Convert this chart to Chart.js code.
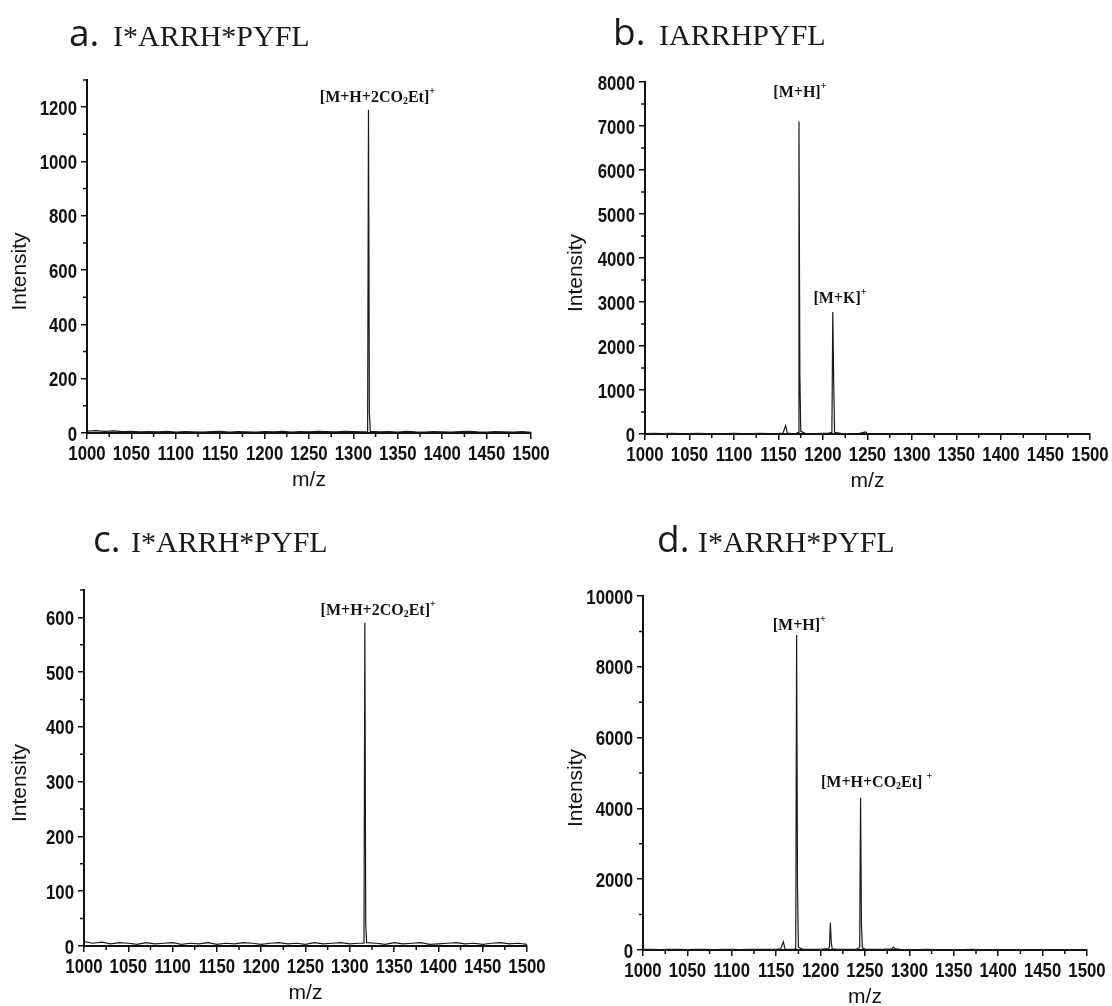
<!DOCTYPE html>
<html>
<head>
<meta charset="utf-8">
<script src="https://cdn.jsdelivr.net/npm/chart.js@4"></script>
<style>
  body { margin: 0; background: #fff; }
  #wrap { position: relative; width: 1112px; height: 1006px; }
  canvas { position: absolute; }
</style>
</head>
<body>
<div id="wrap">
  <canvas id="pa" width="556" height="500" style="left:0;top:0"></canvas>
  <canvas id="pb" width="556" height="500" style="left:556px;top:0"></canvas>
  <canvas id="pc" width="556" height="506" style="left:0;top:500px"></canvas>
  <canvas id="pd" width="556" height="506" style="left:556px;top:500px"></canvas>
</div>
<script>
// shared x axis
const xTicks = [1000, 1050, 1100, 1150, 1200, 1250, 1300, 1350, 1400, 1450, 1500];

// panel a  I*ARRH*PYFL
const mzA = [
  1000, 1010, 1020, 1030, 1040, 1050, 1060, 1070, 1080, 1090,
  1100, 1110, 1120, 1130, 1140, 1150, 1160, 1170, 1180, 1190,
  1200, 1210, 1220, 1230, 1240, 1250, 1260, 1270, 1280, 1290,
  1300, 1310, 1316, 1317, 1318, 1319, 1330, 1340, 1350, 1360,
  1370, 1380, 1390, 1400, 1410, 1420, 1430, 1440, 1450, 1460,
  1470, 1480, 1490, 1500];
const intA = [
  7, 9, 6, 8, 5, 6, 4, 5, 4, 6,
  3, 5, 4, 3, 5, 6, 3, 5, 4, 3,
  5, 4, 6, 3, 5, 4, 6, 5, 4, 6,
  5, 4, 4, 1190, 75, 6, 4, 5, 3, 6,
  4, 3, 5, 4, 3, 5, 6, 4, 3, 5,
  4, 3, 5, 2];
const yTicksA = [0, 200, 400, 600, 800, 1000, 1200];
const labelsA = [{ text: '[M+H+2CO_2Et]^+', mz: 1327, y: 1219 }];

// panel b  IARRHPYFL
const mzB = [
  1000, 1010, 1020, 1030, 1040, 1050, 1060, 1070, 1080, 1090,
  1100, 1110, 1120, 1130, 1140, 1150, 1155, 1158, 1160, 1165,
  1170, 1172, 1173, 1174, 1175, 1180, 1190, 1200, 1205, 1209,
  1210, 1211, 1212, 1213, 1220, 1230, 1240, 1248, 1250, 1260,
  1270, 1280, 1290, 1300, 1310, 1320, 1330, 1340, 1350, 1360,
  1370, 1380, 1390, 1400, 1410, 1420, 1430, 1440, 1450, 1460,
  1470, 1480, 1490, 1500];
const intB = [
  10, 15, 8, 12, 10, 8, 12, 10, 8, 10,
  12, 8, 10, 12, 10, 15, 20, 190, 20, 10,
  15, 30, 7100, 1350, 60, 15, 10, 12, 15, 30,
  60, 2770, 1200, 40, 15, 10, 8, 50, 10, 8,
  10, 8, 6, 10, 8, 6, 8, 10, 6, 8,
  6, 8, 10, 6, 8, 6, 8, 6, 8, 6,
  8, 6, 8, 5];
const yTicksB = [0, 1000, 2000, 3000, 4000, 5000, 6000, 7000, 8000];
const labelsB = [
  { text: '[M+H]^+', mz: 1174, y: 7660 },
  { text: '[M+K]^+', mz: 1219, y: 2977 }
];

// panel c  I*ARRH*PYFL
const mzC = [
  1000, 1010, 1020, 1030, 1040, 1050, 1060, 1070, 1080, 1090,
  1100, 1110, 1120, 1130, 1140, 1150, 1160, 1170, 1180, 1190,
  1200, 1210, 1220, 1230, 1240, 1250, 1260, 1270, 1280, 1290,
  1300, 1310, 1316, 1317, 1318, 1319, 1330, 1340, 1350, 1360,
  1370, 1380, 1390, 1400, 1410, 1420, 1430, 1440, 1450, 1460,
  1470, 1480, 1490, 1500];
const intC = [
  8, 5, 7, 4, 6, 5, 3, 6, 4, 5,
  6, 3, 5, 4, 6, 3, 5, 4, 6, 5,
  3, 5, 6, 4, 5, 3, 6, 4, 5, 6,
  4, 5, 5, 590, 40, 6, 5, 3, 6, 4,
  5, 6, 3, 4, 5, 6, 4, 5, 3, 5,
  6, 4, 5, 3];
const yTicksC = [0, 100, 200, 300, 400, 500, 600];
const labelsC = [{ text: '[M+H+2CO_2Et]^+', mz: 1332, y: 604 }];

// panel d  I*ARRH*PYFL
const mzD = [
  1000, 1010, 1020, 1030, 1040, 1050, 1060, 1070, 1080, 1090,
  1100, 1110, 1120, 1130, 1140, 1150, 1155, 1158, 1160, 1165,
  1170, 1172, 1173, 1174, 1175, 1180, 1190, 1200, 1209, 1210,
  1211, 1212, 1213, 1220, 1230, 1240, 1243, 1244, 1245, 1246,
  1247, 1250, 1260, 1270, 1280, 1282, 1284, 1290, 1300, 1310,
  1320, 1330, 1340, 1350, 1360, 1370, 1380, 1390, 1400, 1410,
  1420, 1430, 1440, 1450, 1460, 1470, 1480, 1490, 1500];
const intD = [
  15, 20, 12, 18, 15, 12, 18, 15, 12, 15,
  18, 12, 15, 18, 15, 20, 30, 230, 25, 15,
  20, 40, 8900, 1750, 80, 20, 15, 20, 40, 90,
  770, 220, 35, 20, 15, 25, 40, 100, 4300, 700,
  60, 25, 15, 20, 30, 80, 30, 15, 12, 10,
  15, 12, 10, 12, 10, 15, 12, 10, 12, 10,
  12, 10, 8, 10, 12, 8, 10, 8, 6];
const yTicksD = [0, 2000, 4000, 6000, 8000, 10000];
const labelsD = [
  { text: '[M+H]^+', mz: 1176, y: 9040 },
  { text: '[M+H+CO_2Et] ^+', mz: 1263, y: 4605 }
];

const ink = '#111';
const sans = "'Liberation Sans', Arial, sans-serif";
const serif = "'Liberation Serif', 'Times New Roman', serif";

// text with _x (subscript) and ^x (superscript), centred on cx
function drawRich(ctx, str, cx, baseY, size) {
  const parts = [];
  for (let i = 0; i < str.length; i++) {
    const c = str[i];
    if ((c === '_' || c === '^') && i + 1 < str.length) { parts.push({ t: str[i + 1], k: c }); i++; }
    else parts.push({ t: c, k: '' });
  }
  const fN = `bold ${size}px ${serif}`;
  const fS = `bold ${Math.round(size * 0.62)}px ${serif}`;
  let w = 0;
  parts.forEach(p => { ctx.font = p.k ? fS : fN; p.w = ctx.measureText(p.t).width; w += p.w; });
  let xx = cx - w / 2;
  ctx.textAlign = 'left';
  ctx.textBaseline = 'alphabetic';
  parts.forEach(p => {
    ctx.font = p.k ? fS : fN;
    const dy = p.k === '_' ? size * 0.12 : p.k === '^' ? -size * 0.5 : 0;
    ctx.fillText(p.t, xx, baseY + dy);
    xx += p.w;
  });
}

// condensed bold tick label
function tickText(ctx, s, x, y, align) {
  ctx.save();
  ctx.translate(x, y);
  ctx.scale(0.8, 1);
  ctx.textAlign = align;
  ctx.fillText(s, 0, 0);
  ctx.restore();
}

const decor = {
  id: 'decor',
  afterDraw(chart, args, o) {
    const { ctx, chartArea: ca, scales: { x, y } } = chart;
    ctx.save();
    ctx.fillStyle = ink;
    ctx.strokeStyle = ink;

    // minor ticks
    ctx.lineWidth = 1.5;
    ctx.beginPath();
    for (let v = x.min; v <= x.max; v += 25) {
      if (xTicks.includes(v)) continue;
      const px = x.getPixelForValue(v);
      ctx.moveTo(px, ca.bottom);
      ctx.lineTo(px, ca.bottom + 4);
    }
    for (let v = y.min; v <= y.max; v += o.yMinor) {
      if (o.yTicks.includes(v)) continue;
      const py = y.getPixelForValue(v);
      ctx.moveTo(ca.left, py);
      ctx.lineTo(ca.left - 4, py);
    }
    ctx.stroke();

    // tick labels
    ctx.font = `bold 21px ${sans}`;
    ctx.textBaseline = 'alphabetic';
    xTicks.forEach(v => tickText(ctx, String(v), x.getPixelForValue(v), ca.bottom + 27, 'center'));
    o.yTicks.forEach(v => tickText(ctx, String(v), ca.left - 10, y.getPixelForValue(v) + 7.5, 'right'));

    // axis titles
    ctx.font = `21px ${sans}`;
    ctx.textAlign = 'center';
    ctx.textBaseline = 'middle';
    ctx.fillText('m/z', (ca.left + ca.right) / 2, ca.bottom + 47);
    ctx.save();
    ctx.translate(20, (ca.top + ca.bottom) / 2 + 15);
    ctx.rotate(-Math.PI / 2);
    ctx.fillText('Intensity', 0, 0);
    ctx.restore();

    // panel title
    ctx.textAlign = 'left';
    ctx.textBaseline = 'alphabetic';
    ctx.fillStyle = '#1a1a1a';
    ctx.font = "37px 'Open Sans', 'Liberation Sans', sans-serif";
    ctx.fillText(o.letter, o.lx, o.by);
    ctx.font = `30px ${serif}`;
    ctx.fillText(o.name, o.tx, o.by);

    // peak labels
    ctx.fillStyle = ink;
    o.labels.forEach(l => drawRich(ctx, l.text, x.getPixelForValue(l.mz), y.getPixelForValue(l.y), 16));
    ctx.restore();
  }
};

function makeChart(id, mz, ints, o) {
  const axisCommon = {
    grid: { drawOnChartArea: false, drawTicks: true, tickLength: 6, color: ink, lineWidth: 1.5 },
    border: { display: true, color: ink, width: 2 }
  };
  new Chart(document.getElementById(id), {
    type: 'line',
    data: {
      datasets: [{
        data: mz.map((m, i) => ({ x: m, y: ints[i] })),
        borderColor: '#1a1a1a',
        borderWidth: 1.2,
        pointRadius: 0,
        tension: 0,
        fill: false
      }]
    },
    options: {
      responsive: false,
      animation: false,
      events: [],
      layout: { padding: { left: 0, top: o.top, right: o.right, bottom: 0 } },
      plugins: {
        legend: { display: false },
        tooltip: { enabled: false },
        decor: o
      },
      scales: {
        x: {
          type: 'linear', min: 1000, max: 1500,
          afterFit: s => { s.height = o.xh; },
          afterBuildTicks: s => { s.ticks = xTicks.map(v => ({ value: v })); },
          ticks: { display: false },
          ...axisCommon
        },
        y: {
          min: 0, max: o.ymax,
          afterFit: s => { s.width = o.yw; },
          afterBuildTicks: s => { s.ticks = o.yTicks.map(v => ({ value: v })); },
          ticks: { display: false },
          ...axisCommon
        }
      }
    },
    plugins: [decor]
  });
}

makeChart('pa', mzA, intA, { top: 80, right: 25, yw: 87, xh: 67, ymax: 1300, yTicks: yTicksA, yMinor: 100,
  letter: 'a.', name: 'I*ARRH*PYFL', lx: 69, tx: 113, by: 46, labels: labelsA });
makeChart('pb', mzB, intB, { top: 82, right: 22, yw: 89, xh: 66, ymax: 8000, yTicks: yTicksB, yMinor: 500,
  letter: 'b.', name: 'IARRHPYFL', lx: 57, tx: 103, by: 45, labels: labelsB });
makeChart('pc', mzC, intC, { top: 90, right: 29, yw: 84, xh: 60, ymax: 650, yTicks: yTicksC, yMinor: 50,
  letter: 'c.', name: 'I*ARRH*PYFL', lx: 93, tx: 131, by: 52, labels: labelsC });
makeChart('pd', mzD, intD, { top: 96, right: 25, yw: 87, xh: 56, ymax: 10000, yTicks: yTicksD, yMinor: 1000,
  letter: 'd.', name: 'I*ARRH*PYFL', lx: 101, tx: 142, by: 52, labels: labelsD });
</script>
</body>
</html>
